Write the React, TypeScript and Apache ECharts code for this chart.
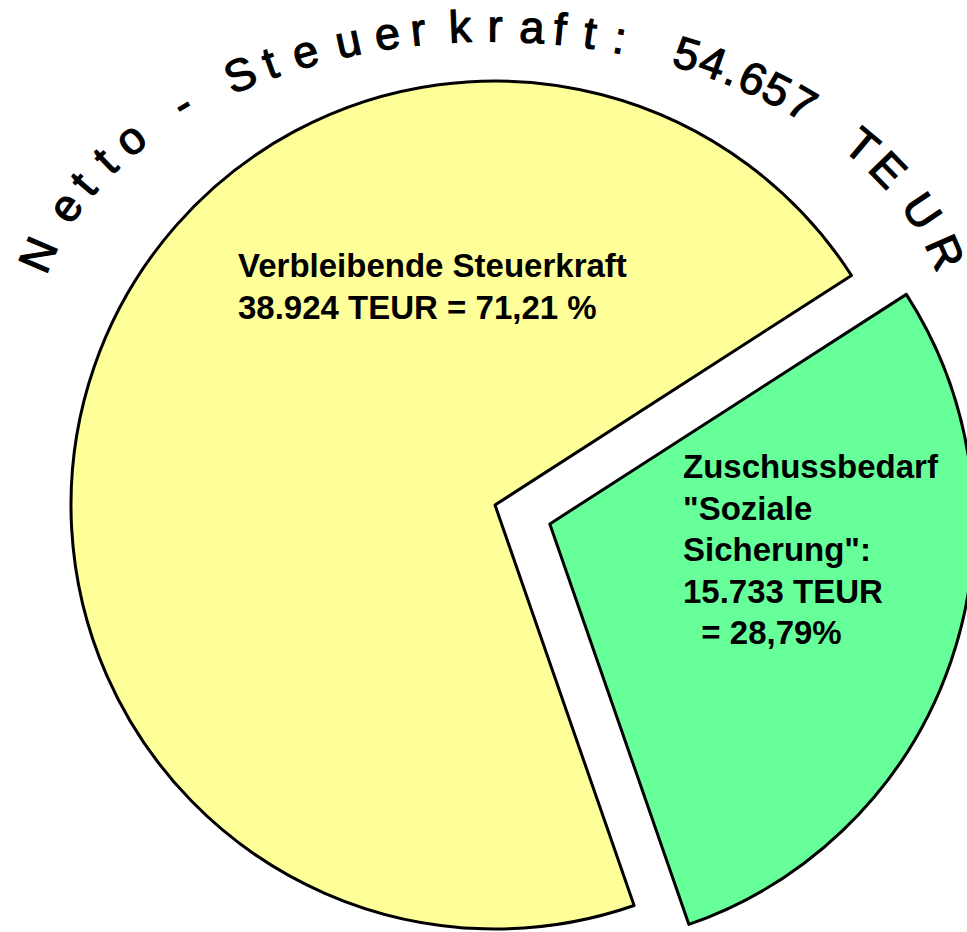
import React, { useEffect, useRef } from "react";
import * as echarts from "echarts";

// ---- data ----
const categories = ["Verbleibende Steuerkraft", 'Zuschussbedarf "Soziale Sicherung"'];
const valuesTEUR = [38924, 15733];
const valueLabels = ["38.924 TEUR", "15.733 TEUR"];
const percentLabels = ["71,21 %", "28,79%"];
const totalLabel = "54.657 TEUR";
const titleText = "Netto - Steuerkraft: " + totalLabel;

// ---- styles / layout ----
const sliceColors = ["#FFFF99", "#66FF99"];
const labelLinesFor = (i: number): string[] =>
  i === 0
    ? [categories[0], `${valueLabels[0]} = ${percentLabels[0]}`]
    : ["Zuschussbedarf", '"Soziale', 'Sicherung":', valueLabels[1], `  = ${percentLabels[1]}`];
const labelAnchors = [
  [238, 245],
  [683, 446],
];
// horizontal centres of the arched title glyphs (spaces skipped)
const titleGlyphX = [
  38, 65, 83, 105, 130, 182, 240, 270, 305, 348, 387, 418, 460, 495, 532, 560, 590, 620, 687, 713,
  733, 753, 777, 802, 862, 888, 922, 945,
];
const arch = { cx: 492, cy: 341, a: 472, b: 315 };
const FONT = '"Liberation Sans", Arial, sans-serif';

export default function App() {
  const ref = useRef<HTMLDivElement>(null);
  useEffect(() => {
    if (!ref.current) return;
    const chart = echarts.init(ref.current, null, { renderer: "svg" });

    const glyphs = Array.from(titleText).filter((c) => c !== " ");
    const titleGraphics = glyphs.map((ch, i) => {
      const x = titleGlyphX[i];
      let c = (x - arch.cx) / arch.a;
      c = Math.max(-1, Math.min(1, c));
      const t = Math.acos(c);
      const s = Math.sin(t);
      const y = arch.cy - arch.b * s;
      const screenAngle = Math.atan2(arch.b * c, arch.a * s);
      return {
        type: "text",
        x,
        y,
        rotation: -screenAngle,
        silent: true,
        style: {
          text: ch,
          fontSize: 45,
          fontFamily: FONT,
          fill: "#000",
          stroke: "#000",
          lineWidth: 1.2,
          align: "center",
          verticalAlign: "middle",
        },
      };
    });

    const labelGraphics = categories.map((_, i) => ({
      type: "text",
      x: labelAnchors[i][0],
      y: labelAnchors[i][1],
      silent: true,
      z: 10,
      style: {
        text: labelLinesFor(i).join("\n"),
        fontSize: 33,
        fontWeight: "bold",
        fontFamily: FONT,
        fill: "#000",
        lineHeight: 41.5,
        align: "left",
        verticalAlign: "top",
      },
    }));

    chart.setOption({
      animation: false,
      backgroundColor: "#ffffff",
      graphic: [...titleGraphics, ...labelGraphics],
      series: [
        {
          type: "pie",
          center: [495, 505],
          radius: 424,
          startAngle: 289.15,
          clockwise: true,
          selectedMode: "single",
          selectedOffset: 58,
          avoidLabelOverlap: false,
          emphasis: { disabled: true },
          itemStyle: { borderColor: "#000", borderWidth: 3 },
          labelLine: { show: false },
          label: { show: false },
          data: categories.map((name, i) => ({
            name,
            value: valuesTEUR[i],
            selected: i === 1,
            itemStyle: { color: sliceColors[i] },
          })),
        },
      ],
    });
    return () => chart.dispose();
  }, []);
  return (
    <div
      ref={ref}
      style={{ position: "absolute", left: 0, top: 0, width: 967, height: 932, background: "#fff" }}
    />
  );
}
